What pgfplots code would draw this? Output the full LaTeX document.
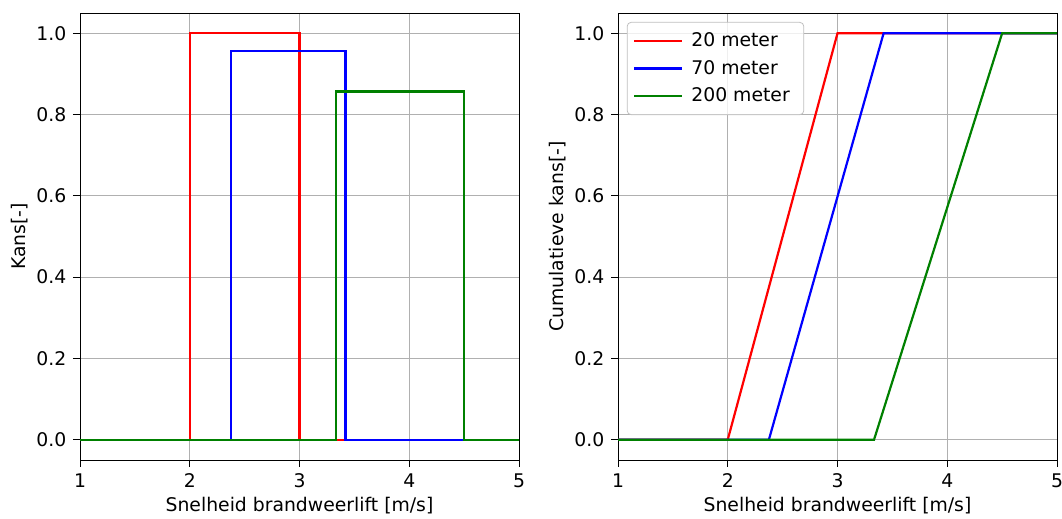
\documentclass[border=0pt]{standalone}
\usepackage{fontspec}
\setmainfont{DejaVu Sans}
\usepackage{pgfplots}
\pgfplotsset{compat=1.18}
\definecolor{gridgray}{HTML}{B0B0B0}
\definecolor{mplgreen}{HTML}{008000}
\begin{document}
\fontsize{9.4}{11}\selectfont
\begin{tikzpicture}
\useasboundingbox (-40pt,-29.5pt) rectangle (491pt,230pt);
\pgfplotsset{
  every axis/.append style={
    scale only axis, width=219.5pt, height=223.5pt,
    xmin=1, xmax=5, ymin=-0.05, ymax=1.05,
    xtick={1,2,3,4,5}, ytick={0,0.2,0.4,0.6,0.8,1.0},
    yticklabel style={/pgf/number format/.cd, fixed, fixed zerofill, precision=1},
    /pgf/number format/assume math mode=true,
    tick align=outside, tick pos=left,
    major tick length=3.5pt,
    every tick/.style={black, line width=0.4pt},
    grid=major, grid style={gridgray, line width=0.45pt},
    axis line style={black, line width=0.45pt},
    tick label style={font=\fontsize{9.4}{11}\selectfont},
    label style={font=\fontsize{9.4}{11}\selectfont},
    xlabel={Snelheid brandweerlift [m/s]},
    xlabel style={yshift=2pt},
    ylabel style={yshift=-2pt},
  }
}
\begin{axis}[name=left, ylabel={Kans[-]}]
\addplot[red, line width=1.1pt] coordinates {(1,0) (2,0) (2,1) (3,1) (3,0) (5,0)};
\addplot[blue, line width=1.1pt] coordinates {(1,0) (2.375,0) (2.375,0.957) (3.42,0.957) (3.42,0) (5,0)};
\addplot[mplgreen, line width=1.1pt] coordinates {(1,0) (3.333,0) (3.333,0.857) (4.5,0.857) (4.5,0) (5,0)};
\end{axis}
\begin{axis}[at={(269pt,0pt)}, ylabel={Cumulatieve kans[-]},
  legend style={draw=gridgray!80, rounded corners=2pt, fill=white, fill opacity=0.8, text opacity=1,
    font=\fontsize{9.4}{11}\selectfont, at={(0.02,0.98)}, anchor=north west,
    row sep=1.5pt, inner xsep=3pt, inner ysep=3pt,
    nodes={inner xsep=4pt}},
  legend cell align=left,
  legend image code/.code={\draw[#1, line width=1.1pt] (-2pt,0cm) -- (22pt,0cm);}]
\addplot[red, line width=1.1pt] coordinates {(1,0) (2,0) (3,1) (5,1)};
\addlegendentry{20 meter}
\addplot[blue, line width=1.1pt] coordinates {(1,0) (2.375,0) (3.42,1) (5,1)};
\addlegendentry{70 meter}
\addplot[mplgreen, line width=1.1pt] coordinates {(1,0) (3.333,0) (4.5,1) (5,1)};
\addlegendentry{200 meter}
\end{axis}
\end{tikzpicture}
\end{document}
